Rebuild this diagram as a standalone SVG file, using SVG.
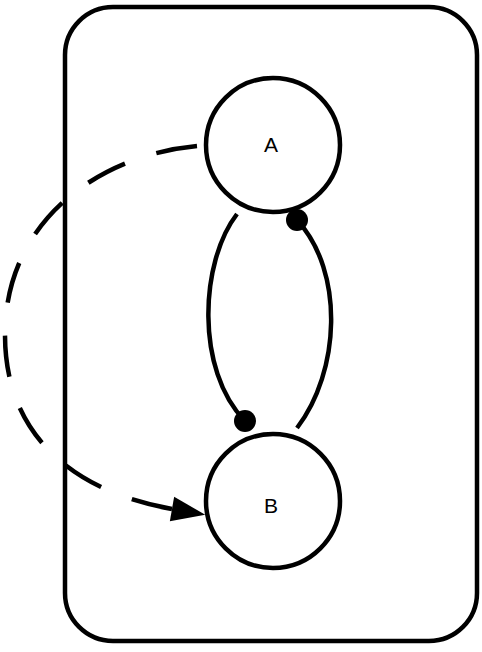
<svg xmlns="http://www.w3.org/2000/svg" width="482" height="652" viewBox="0 0 482 652">
<style>
.line{fill:none;stroke:#000;stroke-width:4.5}
.node{fill:#fff;stroke:#000;stroke-width:4.5}
.lbl{font-family:"Liberation Sans",Arial,sans-serif;font-size:21px;fill:#000;text-anchor:middle}
</style>
<defs>
<marker id="arrow" markerUnits="userSpaceOnUse" markerWidth="40" markerHeight="40" viewBox="-2 -15 32 30" refX="0" refY="0" orient="auto">
<path d="M27,0 L0,-10 L0,10 Z" fill="#000"/>
</marker>
<marker id="dot" markerUnits="userSpaceOnUse" markerWidth="30" markerHeight="30" viewBox="-15 -15 30 30" refX="0" refY="0">
<circle cx="0" cy="0" r="11" fill="#000"/>
</marker>
</defs>
<g id="container">
<rect x="65" y="7" width="412" height="634" rx="48" ry="48" class="line"/>
</g>
<g id="connectors">
<path d="M197,146 C100,155 5,220 5,335 C5,440 80,493 172,509" class="line" pathLength="544" stroke-dasharray="40 32" marker-end="url(#arrow)"/>
<path d="M237,214 C200,262 195,370 245,421" class="line" marker-end="url(#dot)"/>
<path d="M297,428 C340,372 345,272 297,220" class="line" marker-end="url(#dot)"/>
</g>
<g id="nodeA">
<circle cx="273" cy="145" r="67" class="node"/>
<text x="271" y="152" class="lbl">A</text>
</g>
<g id="nodeB">
<circle cx="273" cy="501" r="67" class="node"/>
<text x="271" y="513" class="lbl">B</text>
</g>
</svg>
